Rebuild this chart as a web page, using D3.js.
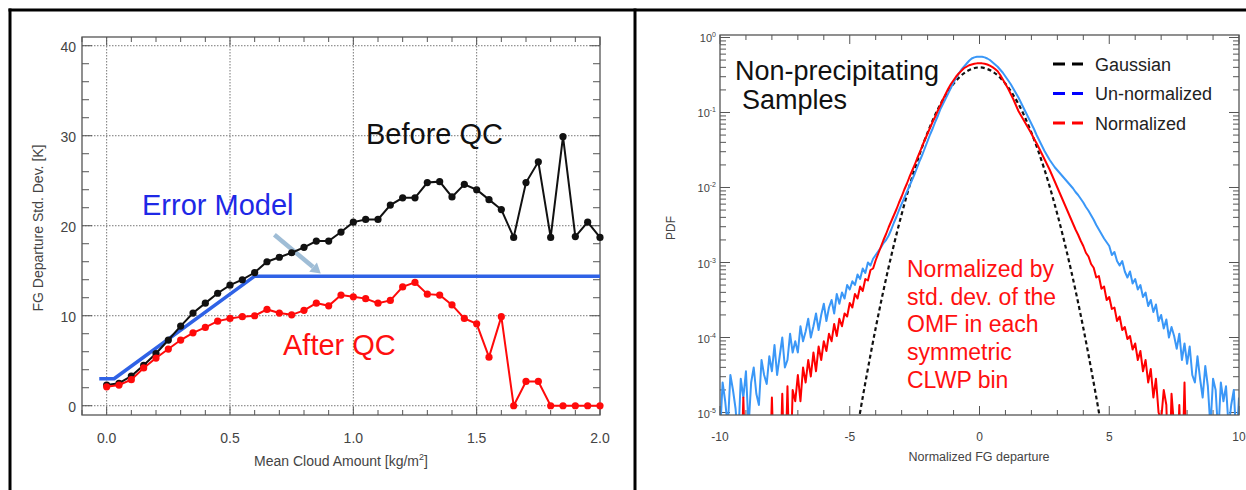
<!DOCTYPE html>
<html>
<head>
<meta charset="utf-8"/>
<title>FG departure statistics</title>
<style>
  * { margin: 0; padding: 0; }
  body { background: #fff; }
  svg { display: block; font-family: "Liberation Sans", Arial, Helvetica, sans-serif; }
  .frame { fill: none; stroke: #555; stroke-width: 1.3; }
  .grid line { stroke: #777; stroke-width: 1; stroke-dasharray: 1.5,1.5; }
  .tk { stroke: #555; stroke-width: 1; }
  text.tl { fill: #444; }
</style>
<script src="https://d3js.org/d3.v7.min.js"></script>
</head>
<body>
<svg id="fig" width="1246" height="490"></svg>
<script>
// ---------- left panel: std. dev. vs mean cloud amount ----------
const cloudAmount = [0.00,0.05,0.10,0.15,0.20,0.25,0.30,0.35,0.40,0.45,0.50,0.55,0.60,0.65,0.70,0.75,0.80,0.85,0.90,0.95,
                     1.00,1.05,1.10,1.15,1.20,1.25,1.30,1.35,1.40,1.45,1.50,1.55,1.60,1.65,1.70,1.75,1.80,1.85,1.90,1.95,2.00];
const beforeQC = [2.3,2.5,3.3,4.5,5.8,7.3,8.85,10.3,11.4,12.5,13.4,14.0,14.8,16.0,16.5,17.0,17.6,18.3,18.3,19.3,
                  20.4,20.7,20.7,22.3,23.1,23.1,24.8,24.9,23.2,24.6,24.0,22.9,21.8,18.7,24.8,27.1,18.7,29.9,18.8,20.4,18.7];
const afterQC = [2.1,2.3,2.9,4.2,5.3,6.3,7.3,8.1,8.7,9.4,9.7,9.9,10.0,10.7,10.3,10.1,10.6,11.4,11.1,12.3,
                 12.1,11.9,11.4,11.7,13.2,13.7,12.4,12.3,11.2,9.7,9.1,5.4,9.9,0,2.7,2.7,0,0,0,0,0];
const errModelX = [-0.03, 0.03, 0.60, 2.00];
const errModelY = [3.0, 3.0, 14.4, 14.4];
const arrowFrom = [0.68, 19.0];
const arrowTo = [0.868, 14.7];
const xTicksLeft = [0, 0.5, 1.0, 1.5, 2.0];
const xTickLabelsLeft = ['0.0', '0.5', '1.0', '1.5', '2.0'];
const yTicksLeft = [0, 10, 20, 30, 40];

// ---------- right panel: PDF of normalized FG departure ----------
// histogram bin centres, 0.1 wide, from -10 to 10
const fgBins = d3.range(-100, 101).map(i => i / 10);
// log10 of PDF (-6 = empty bin, below the axis)
const unnormLog = [
  -5.3,-4.6,-4.85,-5.2,-4.5,-4.7,-4.95,-5.4,-4.55,-4.8,
  -4.45,-5.2,-4.6,-4.4,-4.75,-4.9,-4.3,-4.5,-4.62,-4.25,
  -4.45,-4.1,-4.5,-4.25,-4.0,-4.4,-4.3,-3.95,-4.2,-4.05,
  -4.2,-3.85,-4.05,-3.92,-3.75,-4.0,-3.85,-3.68,-3.9,-3.7,
  -3.55,-3.78,-3.6,-3.5,-3.68,-3.42,-3.55,-3.4,-3.48,-3.3,
  -3.36,-3.25,-3.3,-3.16,-3.22,-3.08,-3.14,-3.0,-3.04,-2.95,
  -2.9,-2.85,-2.8,-2.74,-2.7,-2.64,-2.56,-2.47,-2.39,-2.3,
  -2.22,-2.14,-2.06,-1.98,-1.9,-1.82,-1.73,-1.64,-1.56,-1.47,
  -1.38,-1.29,-1.21,-1.12,-1.04,-0.95,-0.88,-0.81,-0.74,-0.67,
  -0.6,-0.54,-0.48,-0.43,-0.39,-0.35,-0.31,-0.28,-0.265,-0.258,
  -0.256,-0.258,-0.265,-0.28,-0.3,-0.33,-0.36,-0.39,-0.43,-0.47,
  -0.52,-0.57,-0.62,-0.68,-0.74,-0.8,-0.87,-0.94,-1.01,-1.08,
  -1.15,-1.22,-1.3,-1.37,-1.44,-1.51,-1.57,-1.63,-1.68,-1.73,
  -1.77,-1.81,-1.85,-1.89,-1.93,-1.97,-2.01,-2.06,-2.1,-2.15,
  -2.2,-2.26,-2.31,-2.37,-2.43,-2.5,-2.56,-2.62,-2.68,-2.73,
  -2.78,-2.9,-2.86,-2.98,-3.04,-2.98,-3.12,-3.2,-3.12,-3.28,
  -3.22,-3.36,-3.3,-3.46,-3.4,-3.58,-3.5,-3.66,-3.56,-3.78,
  -3.7,-3.88,-3.76,-4.0,-3.86,-3.98,-4.15,-3.95,-4.3,-4.08,
  -4.35,-4.12,-4.5,-4.6,-4.25,-4.55,-4.8,-4.38,-4.65,-5.2,
  -4.55,-4.7,-5.3,-4.6,-4.85,-4.65,-5.2,-4.9,-4.7,-5.4,-4.8
];
const normLog = [
  -6,-6,-6,-6,-6,-6,-6,-6,-6,-4.8,
  -6,-6,-6,-6,-6,-6,-6,-6,-6,-6,
  -4.8,-6,-6,-6,-4.75,-6,-4.65,-6,-4.7,-4.85,
  -4.5,-4.85,-4.4,-4.6,-4.3,-4.52,-4.2,-4.45,-4.12,-4.3,
  -4.05,-4.18,-3.95,-4.05,-3.82,-3.98,-3.75,-3.85,-3.68,-3.72,
  -3.54,-3.6,-3.42,-3.48,-3.32,-3.38,-3.22,-3.24,-3.1,-3.08,
  -2.97,-2.88,-2.79,-2.7,-2.62,-2.53,-2.45,-2.37,-2.29,-2.2,
  -2.12,-2.03,-1.95,-1.86,-1.78,-1.7,-1.61,-1.53,-1.44,-1.36,
  -1.28,-1.2,-1.12,-1.05,-0.97,-0.9,-0.82,-0.75,-0.68,-0.62,
  -0.57,-0.52,-0.48,-0.445,-0.41,-0.39,-0.37,-0.36,-0.35,-0.345,
  -0.344,-0.345,-0.35,-0.36,-0.375,-0.395,-0.42,-0.45,-0.5,-0.56,
  -0.62,-0.68,-0.75,-0.82,-0.9,-0.98,-1.04,-1.1,-1.16,-1.22,
  -1.28,-1.35,-1.41,-1.48,-1.55,-1.62,-1.69,-1.76,-1.84,-1.92,
  -2.0,-2.08,-2.16,-2.24,-2.32,-2.4,-2.48,-2.56,-2.63,-2.71,
  -2.78,-2.87,-2.92,-3.02,-3.07,-3.2,-3.18,-3.35,-3.32,-3.5,
  -3.46,-3.62,-3.6,-3.78,-3.72,-3.9,-3.86,-4.02,-3.98,-4.16,
  -4.08,-4.3,-4.18,-4.45,-4.3,-4.6,-4.42,-4.8,-4.55,-5.0,
  -5.1,-4.7,-4.9,-6,-4.75,-5.2,-6,-4.9,-6,-4.6,
  -6,-6,-6,-6,-6,-6,-6,-6,-6,-6,
  -6,-6,-6,-6,-6,-6,-6,-6,-6,-6,-6
];
const gaussX = [-4.7,-4.5,-4.0,-3.5,-3.0,-2.5,-2.0,-1.5,-1.0,-0.5,0,0.5,1.0,1.5,2.0,2.5,3.0,3.5,4.0,4.5,4.7];
const gaussPdf = [6.3e-6,1.6e-5,1.34e-4,8.7e-4,4.4e-3,0.0175,0.054,0.130,0.242,0.352,0.399,
                  0.352,0.242,0.130,0.054,0.0175,4.4e-3,8.7e-4,1.34e-4,1.6e-5,6.3e-6];
const legendLabels = ['Gaussian', 'Un-normalized', 'Normalized'];
const legendColors = ['#000000', '#0000ff', '#ff0000'];
const pdfDecades = [0, -1, -2, -3, -4, -5];
const xTicksRight = [-10, -5, 0, 5, 10];
const noteLines = ['Normalized by', 'std. dev. of the', 'OMF in each', 'symmetric', 'CLWP bin'];

const svg = d3.select('#fig');
svg.append('rect').attr('width', 1246).attr('height', 490).attr('fill', '#fff');

// outer panel borders
svg.append('line').attr('x1', 8.5).attr('x2', 1246).attr('y1', 10).attr('y2', 10).attr('stroke', '#000').attr('stroke-width', 3);
svg.append('line').attr('x1', 10).attr('x2', 10).attr('y1', 8.5).attr('y2', 490).attr('stroke', '#000').attr('stroke-width', 3);
svg.append('line').attr('x1', 635).attr('x2', 635).attr('y1', 8.5).attr('y2', 490).attr('stroke', '#000').attr('stroke-width', 3);

// ================= LEFT =================
const L = {x0: 82, x1: 600, y0: 37, y1: 415};
const xL = d3.scaleLinear().domain([-0.1, 2.0]).range([L.x0, L.x1]);
const yL = d3.scaleLinear().domain([-1.03, 40.97]).range([L.y1, L.y0]);
const left = svg.append('g');

// grid
const gl = left.append('g').attr('class', 'grid');
xTicksLeft.slice(0, 4).forEach(v => gl.append('line').attr('x1', xL(v)).attr('x2', xL(v)).attr('y1', L.y0).attr('y2', L.y1));
yTicksLeft.forEach(v => gl.append('line').attr('x1', L.x0).attr('x2', L.x1).attr('y1', yL(v)).attr('y2', yL(v)));

// ticks
d3.range(-1, 21).forEach(i => {
  const x = xL(i / 10), len = (i % 5 === 0) ? 8 : 5;
  left.append('line').attr('class', 'tk').attr('x1', x).attr('x2', x).attr('y1', L.y1).attr('y2', L.y1 - len);
  left.append('line').attr('class', 'tk').attr('x1', x).attr('x2', x).attr('y1', L.y0).attr('y2', L.y0 + len);
});
d3.range(0, 21).forEach(i => {
  const y = yL(i * 2), len = (i % 5 === 0) ? 10 : 7;
  left.append('line').attr('class', 'tk').attr('x1', L.x0).attr('x2', L.x0 + len).attr('y1', y).attr('y2', y);
  left.append('line').attr('class', 'tk').attr('x1', L.x1).attr('x2', L.x1 - len).attr('y1', y).attr('y2', y);
});
left.append('rect').attr('class', 'frame').attr('x', L.x0).attr('y', L.y0).attr('width', L.x1 - L.x0).attr('height', L.y1 - L.y0);

// tick labels
xTicksLeft.forEach((v, i) => left.append('text').attr('class', 'tl').attr('x', xL(v)).attr('y', 443)
  .attr('text-anchor', 'middle').attr('font-size', 14).text(xTickLabelsLeft[i]));
yTicksLeft.forEach(v => left.append('text').attr('class', 'tl').attr('x', 76).attr('y', yL(v) + 6.5)
  .attr('text-anchor', 'end').attr('font-size', 14).text(v));

const xt = left.append('text').attr('class', 'tl').attr('x', 341).attr('y', 466).attr('text-anchor', 'middle').attr('font-size', 14);
xt.append('tspan').text('Mean Cloud Amount [kg/m');
xt.append('tspan').attr('font-size', 9).attr('dy', -6).text('2');
xt.append('tspan').attr('dy', 6).text(']');
left.append('text').attr('class', 'tl').attr('transform', 'translate(43,228) rotate(-90)')
  .attr('text-anchor', 'middle').attr('font-size', 14).text('FG Departure Std. Dev. [K]');

// error model
const errLine = d3.line().x(d => xL(d[0])).y(d => yL(d[1]));
left.append('path').attr('d', errLine(errModelX.map((x, i) => [x, errModelY[i]])))
  .attr('fill', 'none').attr('stroke', '#2f62e6').attr('stroke-width', 3.5).attr('stroke-linejoin', 'round');

// arrow
const ax0 = xL(arrowFrom[0]), ay0 = yL(arrowFrom[1]), ax1 = xL(arrowTo[0]), ay1 = yL(arrowTo[1]);
const ang = Math.atan2(ay1 - ay0, ax1 - ax0);
const back = 10;
left.append('line').attr('x1', ax0).attr('y1', ay0)
  .attr('x2', ax1 - back * Math.cos(ang)).attr('y2', ay1 - back * Math.sin(ang))
  .attr('stroke', '#9fbdd6').attr('stroke-width', 4.5);
const bx = ax1 - back * Math.cos(ang), by = ay1 - back * Math.sin(ang);
left.append('polygon').attr('fill', '#9fbdd6').attr('points', [
  [ax1, ay1],
  [bx + 6 * Math.sin(ang), by - 6 * Math.cos(ang)],
  [bx - 6 * Math.sin(ang), by + 6 * Math.cos(ang)]
].map(p => p.join(',')).join(' '));

// series lines + dots
const seriesLeft = [{vals: beforeQC, color: '#111'}, {vals: afterQC, color: '#ff0a0a'}];
seriesLeft.forEach(s => {
  const pts = cloudAmount.map((x, i) => [x, s.vals[i]]);
  left.append('path').attr('d', errLine(pts)).attr('fill', 'none').attr('stroke', s.color).attr('stroke-width', 2);
  left.append('g').selectAll('circle').data(pts).enter().append('circle')
    .attr('cx', d => xL(d[0])).attr('cy', d => yL(d[1])).attr('r', 3.6).attr('fill', s.color);
});

left.append('text').attr('x', 142).attr('y', 215).attr('font-size', 29).attr('fill', '#1e28e6').text('Error Model');
left.append('text').attr('x', 366).attr('y', 144).attr('font-size', 29).attr('fill', '#111').text('Before QC');
left.append('text').attr('x', 283).attr('y', 355).attr('font-size', 29).attr('fill', '#ff1010').text('After QC');

// ================= RIGHT =================
const R = {x0: 720, x1: 1239, y0: 35, y1: 415};
const xR = d3.scaleLinear().domain([-10, 10]).range([R.x0, R.x1]);
const yR = d3.scaleLog().domain([Math.pow(10, -5.0333), Math.pow(10, 0.0333)]).range([R.y1, R.y0]);
const right = svg.append('g');

right.append('clipPath').attr('id', 'clipR').append('rect')
  .attr('x', R.x0).attr('y', R.y0).attr('width', R.x1 - R.x0).attr('height', R.y1 - R.y0);

// ticks
d3.range(-10, 11).forEach(v => {
  const x = xR(v), len = (v % 5 === 0) ? 9 : 5;
  right.append('line').attr('class', 'tk').attr('x1', x).attr('x2', x).attr('y1', R.y1).attr('y2', R.y1 - len);
  right.append('line').attr('class', 'tk').attr('x1', x).attr('x2', x).attr('y1', R.y0).attr('y2', R.y0 + len);
});
pdfDecades.forEach(e => {
  const ys = [{y: yR(Math.pow(10, e)), len: 10}];
  if (e < 0) d3.range(2, 10).forEach(m => ys.push({y: yR(m * Math.pow(10, e)), len: 6}));
  ys.forEach(t => {
    right.append('line').attr('class', 'tk').attr('x1', R.x0).attr('x2', R.x0 + t.len).attr('y1', t.y).attr('y2', t.y);
    right.append('line').attr('class', 'tk').attr('x1', R.x1).attr('x2', R.x1 - t.len).attr('y1', t.y).attr('y2', t.y);
  });
});

// curves
const pdfLine = d3.line().x(d => xR(d[0])).y(d => yR(d[1]));
const curves = right.append('g').attr('clip-path', 'url(#clipR)');
curves.append('path').attr('d', pdfLine.curve(d3.curveCatmullRom)(gaussX.map((x, i) => [x, gaussPdf[i]])))
  .attr('fill', 'none').attr('stroke', '#111').attr('stroke-width', 2.2).attr('stroke-dasharray', '4,3');
pdfLine.curve(d3.curveLinear);
curves.append('path').attr('d', pdfLine(fgBins.map((x, i) => [x, Math.pow(10, unnormLog[i])])))
  .attr('fill', 'none').attr('stroke', '#3a97f7').attr('stroke-width', 2).attr('stroke-linejoin', 'round');
curves.append('path').attr('d', pdfLine(fgBins.map((x, i) => [x, Math.pow(10, normLog[i])])))
  .attr('fill', 'none').attr('stroke', '#ff0000').attr('stroke-width', 2).attr('stroke-linejoin', 'round');

right.append('rect').attr('class', 'frame').attr('x', R.x0).attr('y', R.y0).attr('width', R.x1 - R.x0).attr('height', R.y1 - R.y0);

// tick labels
xTicksRight.forEach(v => right.append('text').attr('class', 'tl').attr('x', xR(v)).attr('y', 441)
  .attr('text-anchor', 'middle').attr('font-size', 12).text(v));
pdfDecades.forEach(e => {
  const t = right.append('text').attr('class', 'tl').attr('x', 716).attr('y', yR(Math.pow(10, e)) + 5)
    .attr('text-anchor', 'end').attr('font-size', 11);
  t.append('tspan').text('10');
  t.append('tspan').attr('font-size', 7).attr('dy', -5).text(e);
});
right.append('text').attr('class', 'tl').attr('x', 979).attr('y', 461).attr('text-anchor', 'middle')
  .attr('font-size', 12.5).text('Normalized FG departure');
right.append('text').attr('class', 'tl').attr('transform', 'translate(675,228) rotate(-90)')
  .attr('text-anchor', 'middle').attr('font-size', 12).text('PDF');

// legend
legendLabels.forEach((lab, i) => {
  const y = 64 + i * 29.5;
  right.append('line').attr('x1', 1053).attr('x2', 1083).attr('y1', y).attr('y2', y)
    .attr('stroke', legendColors[i]).attr('stroke-width', 3).attr('stroke-dasharray', '12,7');
  right.append('text').attr('x', 1095).attr('y', y + 6.5).attr('font-size', 18).attr('fill', '#222').text(lab);
});

// annotations
right.append('text').attr('x', 735).attr('y', 80).attr('font-size', 27).attr('fill', '#111').text('Non-precipitating');
right.append('text').attr('x', 742).attr('y', 109).attr('font-size', 27).attr('fill', '#111').text('Samples');
noteLines.forEach((s, i) => right.append('text').attr('x', 907).attr('y', 277 + i * 27.7)
  .attr('font-size', 23).attr('fill', '#ff1010').text(s));
</script>
</body>
</html>
